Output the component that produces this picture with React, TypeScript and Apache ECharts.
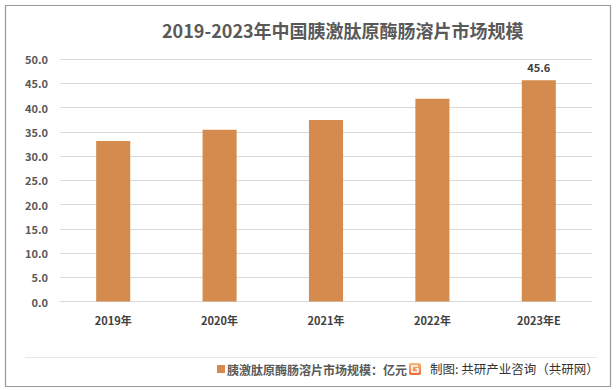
import React, { useEffect, useRef } from "react";
import * as echarts from "echarts";

const categories = ["2019年", "2020年", "2021年", "2022年", "2023年E"];
const marketSize = [33.1, 35.4, 37.4, 41.8, 45.6];
const titleText = "2019-2023年中国胰激肽原酶肠溶片市场规模";
const seriesName = "胰激肽原酶肠溶片市场规模：亿元";
const sourceText = "制图: 共研产业咨询（共研网）";

const FONT = "'Noto Sans CJK SC', 'Noto Sans', sans-serif";

export default function App() {
  const ref = useRef<HTMLDivElement>(null);
  useEffect(() => {
    document.body.style.margin = "0";
    const chart = echarts.init(ref.current!, null, { renderer: "svg" });
    chart.setOption({
      animation: false,
      backgroundColor: "#ffffff",
      textStyle: { fontFamily: FONT },
      title: {
        text: titleText,
        left: 157,
        top: 16,
        textStyle: { fontSize: 18, fontWeight: "bold", color: "#595959", fontFamily: FONT },
      },
      legend: {
        left: 212,
        top: 358,
        itemWidth: 8,
        itemHeight: 8,
        itemGap: 4,
        icon: "rect",
        textStyle: { fontSize: 12, color: "#595959", fontWeight: "bold", fontFamily: FONT, padding: [0, 0, 0, -3] },
        data: [seriesName],
      },
      grid: { left: 60, right: 24, top: 59, bottom: 88.5 },
      xAxis: {
        type: "category",
        data: categories,
        axisLine: { lineStyle: { color: "#d9d9d9", width: 1 } },
        axisTick: { show: false },
        axisLabel: { color: "#404040", fontSize: 11, fontWeight: "bold", margin: 13, fontFamily: FONT },
      },
      yAxis: {
        type: "value",
        min: 0,
        max: 50,
        interval: 5,
        axisLine: { show: false },
        axisTick: { show: false },
        splitLine: { lineStyle: { color: "#d9d9d9", width: 1 } },
        axisLabel: {
          color: "#595959",
          fontSize: 11,
          fontWeight: "bold",
          margin: 12,
          fontFamily: FONT,
          formatter: (v: number) => v.toFixed(1),
        },
      },
      series: [
        {
          name: seriesName,
          type: "bar",
          data: marketSize.map((v, i) => ({
            value: v,
            label: {
              show: i === marketSize.length - 1,
              position: "top",
              distance: 8,
              color: "#404040",
              fontSize: 11,
              fontWeight: "bold",
              fontFamily: FONT,
              formatter: (p: any) => p.value.toFixed(1),
            },
          })),
          barWidth: "32%",
          itemStyle: { color: "#d48b4d" },
        },
      ],
      graphic: [
        {
          type: "rect",
          shape: { x: 5.5, y: 5.5, width: 605, height: 381 },
          style: { fill: "none", stroke: "#999999", lineWidth: 1.2 },
          silent: true,
        },
        {
          type: "line",
          shape: { x1: 25, y1: 357.5, x2: 597, y2: 357.5 },
          style: { stroke: "#e8e8e8", lineWidth: 1 },
          silent: true,
        },
        {
          type: "group",
          x: 409,
          y: 363,
          children: [
            {
              type: "rect",
              shape: { x: 0, y: 0, width: 12, height: 12, r: 2 },
              style: {
                fill: new echarts.graphic.LinearGradient(0, 0, 0, 1, [
                  { offset: 0, color: "#f9b87a" },
                  { offset: 1, color: "#ec6a32" },
                ]),
              },
            },
            {
              type: "polyline",
              shape: { points: [[9, 3], [3, 3], [3, 9], [9, 9], [9, 6], [6.5, 6]] },
              style: { stroke: "#ffffff", lineWidth: 1.6, fill: "none" },
            },
          ],
        },
        {
          type: "text",
          x: 430,
          y: 368.5,
          style: {
            text: sourceText,
            fontSize: 12.5,
            fill: "#333333",
            fontFamily: FONT,
            verticalAlign: "middle",
            textAlign: "left",
          },
        },
      ],
    });
    return () => chart.dispose();
  }, []);
  return <div ref={ref} style={{ width: 616, height: 390 }} />;
}
